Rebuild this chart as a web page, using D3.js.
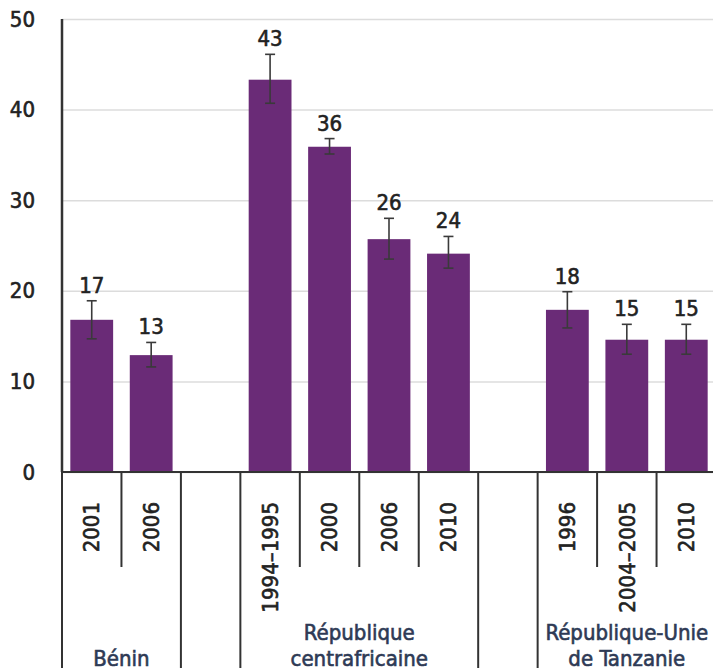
<!DOCTYPE html>
<html>
<head>
<meta charset="utf-8">
<script src="https://cdn.jsdelivr.net/npm/d3@7"></script>
<style>
  body { margin: 0; background: #fff; }
  text { font-family: "Liberation Sans Narrow", "DejaVu Sans Condensed", "Roboto", sans-serif; }
  text.txt { stroke-width: 0.6px; }
</style>
</head>
<body>
<div id="chart"></div>
<script>
"use strict"

// groups (countries) and their survey years
let groups = [["Bénin"], ["République", "centrafricaine"], ["République-Unie", "de Tanzanie"]];
let years = [
  ["2001", "2006"],
  ["1994–1995", "2000", "2006", "2010"],
  ["1996", "2004–2005", "2010"]
];
let values = [
  [16.8, 12.9],
  [43.3, 35.9, 25.7, 24.1],
  [17.9, 14.6, 14.6]
];
let errLow = [
  [14.7, 11.6],
  [40.7, 35.1, 23.5, 22.5],
  [15.9, 13.0, 13.0]
];
let errHigh = [
  [18.9, 14.3],
  [46.1, 36.8, 28.0, 26.0],
  [19.9, 16.3, 16.3]
];
let labels = [
  ["17", "13"],
  ["43", "36", "26", "24"],
  ["18", "15", "15"]
];
let yTicks = [0, 10, 20, 30, 40, 50];

let width = 713;
let height = 672;
let left = 62;
let right = 716;
let y0 = 472;
let yTop = 19;
let fontSize = 22;

// flat list of slots, with an empty slot between groups
let slots = [];
groups.forEach(function(g, gi) {
  years[gi].forEach(function(yr, i) {
    slots.push({
      id: gi + "-" + i, group: gi, year: yr,
      value: values[gi][i], lo: errLow[gi][i], hi: errHigh[gi][i], label: labels[gi][i]
    });
  });
  if (gi < groups.length - 1) slots.push({ id: "gap" + gi, group: -1 });
});

let x = d3.scaleBand()
          .domain(slots.map(d => d.id))
          .range([left, right])
          .padding(0);

let y = d3.scaleLinear()
          .domain([0, 50])
          .range([y0, yTop]);

let svg = d3.select("#chart").append("svg")
            .attr("width", width)
            .attr("height", height);

// gridlines + y tick labels
let yAxis = svg.append("g")
               .attr("transform", "translate(" + left + ",0)")
               .call(d3.axisLeft(y)
                       .tickValues(yTicks)
                       .tickSize(-(width - left))
                       .tickPadding(27));
yAxis.select(".domain").remove();
yAxis.selectAll(".tick line")
     .attr("stroke", "#dcdcdc")
     .attr("stroke-width", 1.5);
yAxis.selectAll(".tick text")
     .attr("class", "txt")
     .attr("fill", "#222")
     .attr("stroke", "#222")
     .style("font-size", fontSize + "px")
     .style("font-family", null);

let bars = slots.filter(d => d.group >= 0);
let bw = x.bandwidth() * 0.72;

svg.append("g").selectAll("rect")
   .data(bars)
   .enter().append("rect")
   .attr("x", d => x(d.id) + (x.bandwidth() - bw) / 2)
   .attr("y", d => y(d.value))
   .attr("width", bw)
   .attr("height", d => y0 - y(d.value))
   .attr("fill", "#6a2b77");

// error bars
let err = svg.append("g")
             .attr("stroke", "#3a3a3a")
             .attr("stroke-width", 1.6);
bars.forEach(function(d) {
  let cx = x(d.id) + x.bandwidth() / 2;
  err.append("line").attr("x1", cx).attr("x2", cx).attr("y1", y(d.lo)).attr("y2", y(d.hi));
  err.append("line").attr("x1", cx - 5).attr("x2", cx + 5).attr("y1", y(d.lo)).attr("y2", y(d.lo));
  err.append("line").attr("x1", cx - 5).attr("x2", cx + 5).attr("y1", y(d.hi)).attr("y2", y(d.hi));
});

// value labels
svg.append("g").selectAll("text")
   .data(bars)
   .enter().append("text")
   .attr("class", "txt")
   .attr("x", d => x(d.id) + x.bandwidth() / 2)
   .attr("y", d => y(d.hi) - 8)
   .attr("text-anchor", "middle")
   .attr("fill", "#222")
   .attr("stroke", "#222")
   .style("font-size", fontSize + "px")
   .text(d => d.label);

// year labels, rotated
svg.append("g").selectAll("text")
   .data(bars)
   .enter().append("text")
   .attr("class", "txt")
   .attr("transform", d => "translate(" + (x(d.id) + x.bandwidth() / 2) + ",502) rotate(-90)")
   .attr("text-anchor", "end")
   .attr("dy", "0.35em")
   .attr("fill", "#222")
   .attr("stroke", "#222")
   .style("font-size", fontSize + "px")
   .text(d => d.year);

// category separators: long at group edges, short inside groups
let edges = [];
for (let i = 0; i <= slots.length; i++) {
  let prev = slots[i - 1];
  let next = slots[i];
  let inside = prev && next && prev.group >= 0 && prev.group === next.group;
  let xp = i < slots.length ? x(next.id) : right;
  edges.push({ x: xp, long: !inside });
}
svg.append("g").selectAll("line")
   .data(edges)
   .enter().append("line")
   .attr("x1", d => d.x).attr("x2", d => d.x)
   .attr("y1", y0)
   .attr("y2", d => d.long ? 668 : 567)
   .attr("stroke", "#333")
   .attr("stroke-width", 2);

// axis lines
svg.append("line")
   .attr("x1", left).attr("x2", left)
   .attr("y1", yTop).attr("y2", y0)
   .attr("stroke", "#333").attr("stroke-width", 2.5);
svg.append("line")
   .attr("x1", left).attr("x2", width)
   .attr("y1", y0).attr("y2", y0)
   .attr("stroke", "#333").attr("stroke-width", 2);

// group labels
groups.forEach(function(g, gi) {
  let ids = slots.filter(d => d.group === gi).map(d => d.id);
  let cx = (x(ids[0]) + x(ids[ids.length - 1]) + x.bandwidth()) / 2;
  let t = svg.append("text")
             .attr("class", "txt")
             .attr("x", cx)
             .attr("text-anchor", "middle")
             .attr("fill", "#2e3a55")
             .attr("stroke", "#2e3a55")
             .style("font-size", fontSize + "px");
  g.forEach(function(line, li) {
    t.append("tspan")
     .attr("x", cx)
     .attr("y", 666 - (g.length - 1 - li) * 26)
     .text(line);
  });
});
</script>
</body>
</html>
